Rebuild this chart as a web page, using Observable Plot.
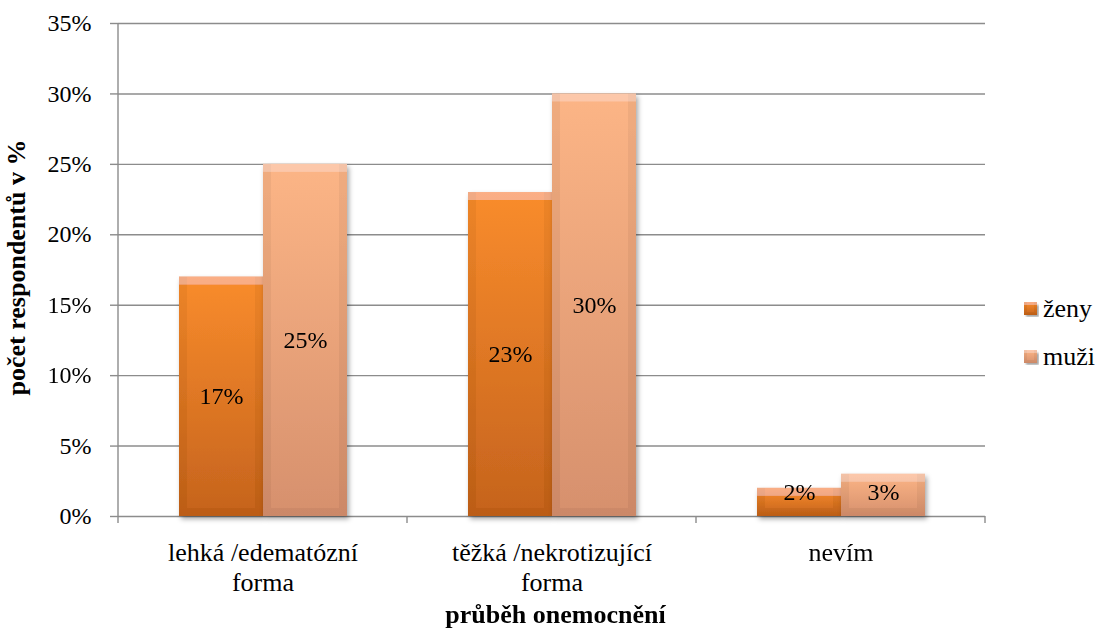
<!DOCTYPE html>
<html>
<head>
<meta charset="utf-8">
<script src="https://cdn.jsdelivr.net/npm/d3@7"></script>
<script src="https://cdn.jsdelivr.net/npm/@observablehq/plot@0.6"></script>
<style>
  html, body { margin: 0; padding: 0; background: #fff; }
  #chart { width: 1101px; height: 633px; }
</style>
</head>
<body>
<div id="chart"></div>
<script>
// Course of the disease, by respondent sex (% of respondents)
const categories = ["lehká /edematózní\nforma", "těžká /nekrotizující\nforma", "nevím"];
const series = ["ženy", "muži"];
const zenyValues = [17, 23, 2];
const muziValues = [25, 30, 3];
const yTicks = [0, 5, 10, 15, 20, 25, 30, 35];
const xTitle = "průběh onemocnění";
const yTitle = "počet respondentů v %";

const data = categories.flatMap((category, i) => [
  {category, series: "ženy", value: zenyValues[i]},
  {category, series: "muži", value: muziValues[i]}
]);

const gridColor = "#8c8c8c";
const font = "'Liberation Serif', 'Times New Roman', serif";

const barOpts = {fx: "category", x: "series", y: "value", inset: 0};

const plot = Plot.plot({
  width: 1101,
  height: 633,
  marginLeft: 117,
  marginRight: 116,
  marginTop: 23,
  marginBottom: 117,
  style: {fontFamily: font, fontSize: "24px", background: "#fff", color: "#000", overflow: "visible"},
  fx: {domain: categories, padding: 0, label: null},
  x: {domain: series, paddingInner: 0, paddingOuter: 0.72, axis: null},
  y: {domain: [0, 35], label: null},
  marks: [
    Plot.gridY(yTicks, {stroke: gridColor, strokeOpacity: 1, strokeWidth: 1.4}),
    Plot.barY(data.filter(d => d.series === "ženy"), {...barOpts, fill: "url(#grad-zeny)"}),
    Plot.barY(data.filter(d => d.series === "muži"), {...barOpts, fill: "url(#grad-muzi)"}),
    Plot.text(data, {
      fx: "category", x: "series",
      y: d => Math.max(d.value / 2, 1.75),
      text: d => d.value + "%",
      fontSize: 24, fill: "#000"
    }),
    Plot.axisY(yTicks, {
      tickSize: 8, tickPadding: 19, tickFormat: d => d + "%",
      fontSize: 24, stroke: gridColor, strokeWidth: 1.4, fill: "#000", label: null
    }),
    Plot.axisFx({
      anchor: "bottom", tickSize: 0, tickPadding: 23, fontSize: 26,
      lineHeight: 1.154, fill: "#000", label: null
    })
  ]
});

const svg = d3.select(plot);

// gradients and bevel/shadow filters
const defs = svg.insert("defs", ":first-child");
function vGrad(id, top, bottom) {
  const g = defs.append("linearGradient").attr("id", id).attr("x1", 0).attr("y1", 0).attr("x2", 0).attr("y2", 1);
  g.append("stop").attr("offset", "0%").attr("stop-color", top);
  g.append("stop").attr("offset", "100%").attr("stop-color", bottom);
}
vGrad("grad-zeny", "#f98c2c", "#c5631d");
vGrad("grad-muzi", "#fcb586", "#d6906d");

function bevel(id, w, blur) {
  const f = defs.append("filter").attr("id", id)
    .attr("x", "-10%").attr("y", "-10%").attr("width", "125%").attr("height", "125%");
  f.html(`
    <feOffset in="SourceAlpha" dy="${w}" result="down"/>
    <feComposite in="SourceAlpha" in2="down" operator="out" result="topStrip"/>
    <feFlood flood-color="#fff" flood-opacity="0.22"/>
    <feComposite in2="topStrip" operator="in" result="topLight"/>
    <feOffset in="SourceAlpha" dx="${w}" result="right"/>
    <feComposite in="SourceAlpha" in2="right" operator="out" result="leftStrip"/>
    <feOffset in="SourceAlpha" dx="-${w}" result="left"/>
    <feComposite in="SourceAlpha" in2="left" operator="out" result="rightStrip"/>
    <feOffset in="SourceAlpha" dy="-${w}" result="up"/>
    <feComposite in="SourceAlpha" in2="up" operator="out" result="bottomStrip"/>
    <feMerge result="sides"><feMergeNode in="leftStrip"/><feMergeNode in="rightStrip"/><feMergeNode in="bottomStrip"/></feMerge>
    <feFlood flood-color="#000" flood-opacity="0.1"/>
    <feComposite in2="sides" operator="in" result="sideDark"/>
    <feOffset in="SourceAlpha" dx="2" dy="3" result="sh"/>
    <feGaussianBlur in="sh" stdDeviation="${blur}" result="shb"/>
    <feFlood flood-color="#000" flood-opacity="0.35"/>
    <feComposite in2="shb" operator="in" result="shadow"/>
    <feMerge>
      <feMergeNode in="shadow"/>
      <feMergeNode in="SourceGraphic"/>
      <feMergeNode in="sideDark"/>
      <feMergeNode in="topLight"/>
    </feMerge>`);
}
bevel("bevel", 8, 2.5);
bevel("bevel-small", 3, 1);

svg.selectAll('g[aria-label="bar"]').attr("filter", "url(#bevel)");

// axis lines: left spine and category boundary ticks
const fx = plot.scale("fx");
const y = plot.scale("y");
const y0 = y.apply(0);
const yTop = y.apply(35);
const bounds = categories.map(c => fx.apply(c));
bounds.push(bounds[bounds.length - 1] + fx.bandwidth);
const axisG = svg.append("g").attr("stroke", gridColor).attr("stroke-width", 1.4);
axisG.append("line").attr("x1", bounds[0]).attr("x2", bounds[0]).attr("y1", yTop).attr("y2", y0 + 7);
bounds.slice(1).forEach(b => {
  axisG.append("line").attr("x1", b).attr("x2", b).attr("y1", y0).attr("y2", y0 + 7);
});

// axis titles
const midX = (bounds[0] + bounds[bounds.length - 1]) / 2;
svg.append("text")
  .attr("x", midX + 4).attr("y", 623)
  .attr("text-anchor", "middle")
  .attr("font-family", font).attr("font-size", 26).attr("font-weight", "bold")
  .text(xTitle);
svg.append("text")
  .attr("transform", `translate(25,${(y0 + yTop) / 2 - 2}) rotate(-90)`)
  .attr("text-anchor", "middle")
  .attr("font-family", font).attr("font-size", 26).attr("font-weight", "bold")
  .text(yTitle);

// legend
const legend = svg.append("g").attr("transform", "translate(1024,302)");
series.forEach((s, i) => {
  const row = legend.append("g").attr("transform", `translate(0,${i * 48})`);
  row.append("rect").attr("width", 13).attr("height", 13)
    .attr("fill", i === 0 ? "url(#grad-zeny)" : "url(#grad-muzi)")
    .attr("filter", "url(#bevel-small)");
  row.append("text").attr("x", 19).attr("y", 15)
    .attr("text-anchor", "start")
    .attr("font-family", font).attr("font-size", 26)
    .text(s);
});

document.getElementById("chart").appendChild(plot);
</script>
</body>
</html>
